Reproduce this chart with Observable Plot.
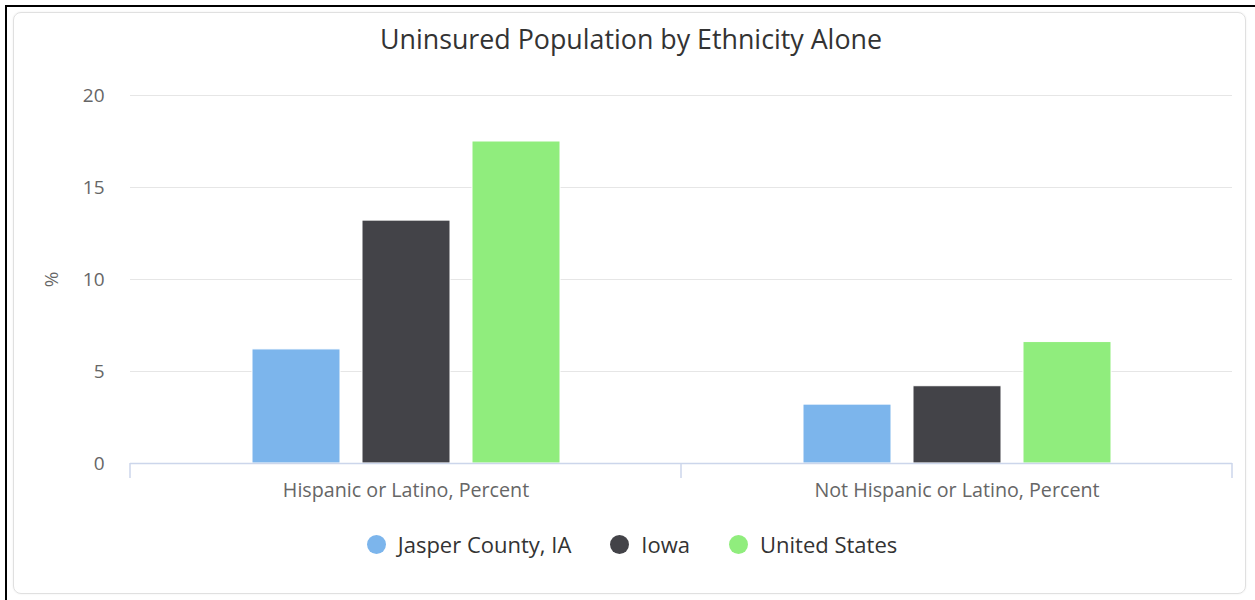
<!DOCTYPE html>
<html><head><meta charset="utf-8">
<script src="https://cdn.jsdelivr.net/npm/d3@7"></script>
<script src="https://cdn.jsdelivr.net/npm/@observablehq/plot@0.6"></script>
<style>
body{margin:0;background:#fff;width:1255px;height:600px;overflow:hidden;font-family:"Open Sans",sans-serif;position:relative;}
#frame{position:absolute;left:5px;top:5px;width:1300px;height:700px;border-left:2px solid #000;border-top:2px solid #000;}
#card{position:absolute;left:13px;top:12px;width:1231px;height:580px;border:1px solid #e0e0e0;border-radius:8px;box-shadow:0 0 2px rgba(0,0,0,0.08);}
#title{position:absolute;left:0;width:1262px;top:20px;text-align:center;font-size:26.8px;color:#333;}
#chart{position:absolute;left:0;top:70px;}
#legend{position:absolute;top:529px;left:0;width:1264px;display:flex;justify-content:center;gap:39px;font-size:22px;color:#333;}
.item{display:flex;align-items:center;gap:12px;}
.dot{width:19px;height:19px;border-radius:50%;}
</style>
</head><body>
<div id="frame"></div>
<div id="card"></div>
<div id="title">Uninsured Population by Ethnicity Alone</div>
<div id="chart"></div>
<div id="legend"></div>
<script>
const categories = ["Hispanic or Latino, Percent", "Not Hispanic or Latino, Percent"];
const series = ["Jasper County, IA", "Iowa", "United States"];
const jasper = [6.2, 3.2];
const iowa = [13.2, 4.2];
const unitedStates = [17.5, 6.6];
const colors = ["#7cb5ec", "#434348", "#90ed7d"];
const yTicks = [0, 5, 10, 15, 20];
const yLabel = "%";

const valuesBySeries = [jasper, iowa, unitedStates];
const data = [];
categories.forEach((c, i) => series.forEach((s, j) => data.push({category: c, series: s, value: valuesBySeries[j][i]})));

const chart = Plot.plot({
  width: 1255, height: 440,
  marginTop: 25, marginBottom: 47, marginLeft: 129, marginRight: 23,
  style: {fontFamily: "Open Sans", fontSize: "19px", color: "#666", background: "transparent", overflow: "visible"},
  fx: {domain: categories, padding: 0, label: null, axis: null},
  x: {domain: series, paddingInner: 0.2, paddingOuter: 1.1, axis: null},
  y: {domain: [0, 20]},
  color: {domain: series, range: colors},
  marks: [
    Plot.gridY(yTicks.filter(d => d > 0), {stroke: "#e6e6e6", strokeOpacity: 1}),
    Plot.axisY(yTicks, {tickSize: 0, tickPadding: 26, label: yLabel, labelAnchor: "center", labelArrow: "none", labelOffset: 86, fontSize: 19, fill: "#666"}),
    Plot.barY(data, {fx: "category", x: "series", y: "value", fill: "series", stroke: "#fff", strokeWidth: 1}),
    Plot.ruleY([0], {stroke: "#ccd6eb", strokeWidth: 1.5}),
    Plot.axisFx({anchor: "bottom", tickSize: 0, tickPadding: 19, fontSize: 19.7, fill: "#666", label: null})
  ]
});
document.getElementById("chart").appendChild(chart);

// boundary tick marks of the category axis, placed from the plot's own scales
const fx = chart.scale("fx"), y = chart.scale("y");
const y0 = y.apply(0);
const bounds = categories.map(c => fx.apply(c)).concat([fx.apply(categories[categories.length - 1]) + fx.bandwidth]);
const svg = d3.select(chart.tagName.toLowerCase() === "svg" ? chart : chart.querySelector("svg"));
svg.append("g").selectAll("line").data(bounds).join("line")
  .attr("x1", d => d).attr("x2", d => d).attr("y1", y0).attr("y2", y0 + 15)
  .attr("stroke", "#ccd6eb").attr("stroke-width", 1.5);

const legend = d3.select("#legend");
series.forEach((s, i) => {
  const it = legend.append("div").attr("class", "item");
  it.append("div").attr("class", "dot").style("background", colors[i]);
  it.append("span").text(s);
});
</script>
</body></html>
